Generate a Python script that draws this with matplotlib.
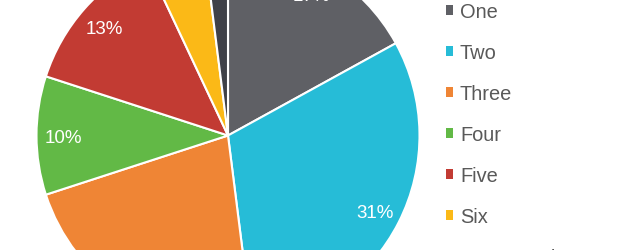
import matplotlib
matplotlib.use("Agg")
import matplotlib.pyplot as plt
from matplotlib.patches import Patch

plt.rcParams["font.family"] = ["Liberation Sans", "DejaVu Sans"]

# slice data, clockwise from 12 o'clock
categories = ["One", "Two", "Three", "Four", "Five", "Six", "Seven and More"]
shares = [17, 31, 22, 10, 13, 5, 2]
colors = ["#5f6065", "#26bcd7", "#ef8535", "#62b946", "#c23b33", "#fbb917", "#3f4148"]

W, H = 640, 251
fig = plt.figure(figsize=(W / 100, H / 100), dpi=100)

# pie is larger than the canvas: center (228, 136.5) px from top-left, radius ~191.5 px
cx, cy, r = 228, 136.5, 191.5
ax = fig.add_axes([(cx - r) / W, (H - cy - r) / H, 2 * r / W, 2 * r / H])
wedges, _, autotexts = ax.pie(
    shares,
    colors=colors,
    startangle=90,
    counterclock=False,
    radius=1,
    autopct="%d%%",
    pctdistance=0.86,
    wedgeprops=dict(edgecolor="white", linewidth=1.5),
    textprops=dict(color="white", fontsize=13.5),
)
for t in autotexts:
    t.set_va("center_baseline")
ax.set_xlim(-1, 1)
ax.set_ylim(-1, 1)
ax.set_aspect("equal")
ax.axis("off")

handles = [Patch(facecolor=c, edgecolor="none") for c in colors]
fig.legend(
    handles, categories,
    loc="upper left",
    bbox_to_anchor=(446 / W, 1 - 3 / H),
    frameon=False,
    fontsize=14.4,
    labelcolor="#595959",
    handlelength=0.35,
    handleheight=0.35,
    handletextpad=0.35,
    labelspacing=1.1,
    borderpad=0,
    borderaxespad=0,
)

fig.savefig("out.png", dpi=100)
